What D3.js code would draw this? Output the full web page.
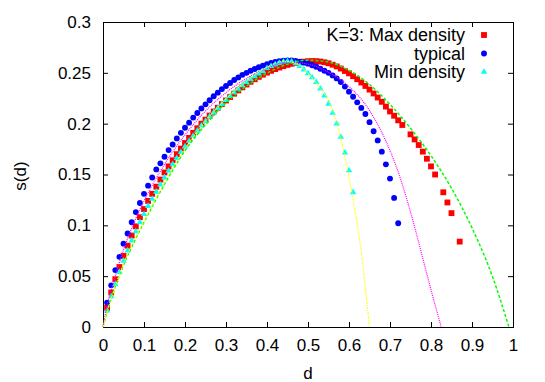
<!DOCTYPE html>
<html>
<head>
<meta charset="utf-8">
<script src="https://cdn.jsdelivr.net/npm/d3@7"></script>
<style>
  body { margin: 0; background: #fff; }
  text { font-family: "Liberation Sans", Arial, sans-serif; fill: #000; }
</style>
</head>
<body>
<div id="chart"></div>
<script>
// tick labels
var xTicks = [0, 0.1, 0.2, 0.3, 0.4, 0.5, 0.6, 0.7, 0.8, 0.9, 1];
var yTicks = [0, 0.05, 0.1, 0.15, 0.2, 0.25, 0.3];

// legend names
var seriesNames = ["K=3: Max density", "typical", "Min density"];

// measured points [d, s(d)]
var maxDensity = [
  [0.01,0.019],[0.02,0.034],[0.03,0.047],[0.04,0.059],[0.05,0.070],[0.06,0.080],[0.07,0.090],[0.08,0.099],
  [0.09,0.108],[0.10,0.116],[0.11,0.124],[0.12,0.131],[0.13,0.138],[0.14,0.145],[0.15,0.152],[0.16,0.158],
  [0.17,0.164],[0.18,0.170],[0.19,0.1755],[0.20,0.181],[0.21,0.186],[0.22,0.191],[0.23,0.1955],[0.24,0.200],
  [0.25,0.204],[0.26,0.208],[0.27,0.212],[0.28,0.2157],[0.29,0.2193],[0.30,0.2228],[0.31,0.2262],[0.32,0.2295],
  [0.33,0.2327],[0.34,0.2357],[0.35,0.2385],[0.36,0.2412],[0.37,0.2437],[0.38,0.246],[0.39,0.2482],[0.40,0.2502],
  [0.41,0.252],[0.42,0.2537],[0.43,0.2552],[0.44,0.2566],[0.45,0.2578],[0.46,0.2589],[0.47,0.2598],[0.48,0.2605],
  [0.49,0.261],[0.50,0.2614],[0.51,0.2616],[0.52,0.2615],[0.53,0.2611],[0.54,0.2604],[0.55,0.2594],[0.56,0.258],
  [0.57,0.2563],[0.58,0.2542],[0.59,0.2518],[0.60,0.2495],[0.61,0.2467],[0.62,0.2437],[0.63,0.2405],[0.64,0.2371],
  [0.65,0.2335],[0.66,0.2297],[0.67,0.2257],[0.68,0.2215],[0.69,0.2168],[0.70,0.212],[0.71,0.2078],[0.72,0.2033],
  [0.73,0.1987],[0.75,0.1895],[0.76,0.1845],[0.77,0.179],[0.78,0.1725],[0.79,0.1655],[0.80,0.158],[0.81,0.150],
  [0.83,0.1325],[0.84,0.1225],[0.85,0.112],[0.87,0.084]
];

var typical = [
  [0.01,0.024],[0.02,0.041],[0.03,0.056],[0.04,0.069],[0.05,0.082],[0.06,0.092],[0.07,0.103],[0.08,0.113],
  [0.09,0.122],[0.10,0.131],[0.11,0.139],[0.12,0.147],[0.13,0.155],[0.14,0.161],[0.15,0.1675],[0.16,0.174],
  [0.17,0.1795],[0.18,0.1855],[0.19,0.191],[0.20,0.196],[0.21,0.201],[0.22,0.206],[0.23,0.2105],[0.24,0.215],
  [0.25,0.219],[0.26,0.223],[0.27,0.227],[0.28,0.2305],[0.29,0.234],[0.30,0.237],[0.31,0.240],[0.32,0.243],
  [0.33,0.2455],[0.34,0.248],[0.35,0.250],[0.36,0.252],[0.37,0.2538],[0.38,0.2555],[0.39,0.257],[0.40,0.2585],
  [0.41,0.2597],[0.42,0.2607],[0.43,0.2615],[0.44,0.262],[0.45,0.2622],[0.46,0.2622],[0.47,0.2618],[0.48,0.261],
  [0.49,0.260],[0.50,0.259],[0.51,0.2575],[0.52,0.256],[0.53,0.254],[0.54,0.252],[0.55,0.250],[0.56,0.2475],
  [0.57,0.2445],[0.58,0.241],[0.59,0.2365],[0.60,0.2315],[0.61,0.2265],[0.62,0.221],[0.63,0.2155],[0.64,0.2095],
  [0.65,0.2015],[0.66,0.1925],[0.67,0.1835],[0.68,0.1725],[0.69,0.160],[0.70,0.146],[0.71,0.127],[0.72,0.102]
];

var minDensity = [
  [0.01,0.016],[0.02,0.030],[0.03,0.042],[0.04,0.054],[0.05,0.065],[0.06,0.075],[0.07,0.085],[0.08,0.094],
  [0.09,0.103],[0.10,0.111],[0.11,0.119],[0.12,0.126],[0.13,0.133],[0.14,0.140],[0.15,0.147],[0.16,0.1535],
  [0.17,0.160],[0.18,0.166],[0.19,0.172],[0.20,0.1775],[0.21,0.183],[0.22,0.188],[0.23,0.193],[0.24,0.198],
  [0.25,0.2025],[0.26,0.207],[0.27,0.2112],[0.28,0.2153],[0.29,0.2193],[0.30,0.2232],[0.31,0.227],[0.32,0.2307],
  [0.33,0.2342],[0.34,0.2376],[0.35,0.2408],[0.36,0.2438],[0.37,0.2466],[0.38,0.2492],[0.39,0.2515],[0.40,0.2545],
  [0.41,0.2565],[0.42,0.2583],[0.43,0.2598],[0.44,0.2609],[0.45,0.2615],[0.46,0.2612],[0.47,0.2593],[0.48,0.2565],
  [0.49,0.2532],[0.50,0.2495],[0.51,0.2455],[0.52,0.2408],[0.53,0.2345],[0.54,0.2275],[0.55,0.2195],[0.56,0.2105],
  [0.57,0.200],[0.58,0.187],[0.59,0.1715],[0.60,0.154],[0.61,0.1325]
];

// theory curves [d, s(d)]
var maxCurve = [
  [0,0],[0.01,0.015],[0.025,0.034],[0.05,0.061],[0.075,0.083],[0.10,0.103],[0.15,0.1405],[0.20,0.1735],
  [0.25,0.199],[0.30,0.2205],[0.35,0.237],[0.40,0.2497],[0.45,0.2585],[0.50,0.2625],[0.55,0.2605],[0.60,0.2525],
  [0.65,0.2385],[0.70,0.219],[0.75,0.1955],[0.80,0.1685],[0.85,0.1365],[0.90,0.0975],[0.95,0.0495],[0.99,0]
];

var typicalCurve = [
  [0,0],[0.01,0.021],[0.025,0.043],[0.05,0.076],[0.075,0.102],[0.10,0.124],[0.15,0.160],[0.20,0.189],
  [0.25,0.2125],[0.30,0.2305],[0.35,0.2445],[0.40,0.2545],[0.45,0.2605],[0.50,0.2585],[0.55,0.2505],[0.60,0.2365],
  [0.65,0.213],[0.70,0.1735],[0.72,0.1525],[0.74,0.127],[0.76,0.0985],[0.78,0.0675],[0.80,0.0365],[0.825,0]
];

var minCurve = [
  [0,0],[0.01,0.015],[0.025,0.034],[0.05,0.062],[0.10,0.104],[0.15,0.142],[0.20,0.1755],[0.25,0.2025],
  [0.30,0.2245],[0.35,0.242],[0.40,0.2555],[0.44,0.2615],[0.47,0.2595],[0.50,0.2495],[0.53,0.2345],[0.55,0.2225],
  [0.57,0.2005],[0.59,0.1675],[0.61,0.1255],[0.63,0.0735],[0.65,0]
];

// svg params
var svgWidth = 545;
var svgHeight = 382;
var margin = { top: 22, right: 32, bottom: 55, left: 103 };
var chartWidth = svgWidth - margin.left - margin.right;
var chartHeight = svgHeight - margin.top - margin.bottom;

var svg = d3.select("#chart").append("svg")
  .attr("width", svgWidth)
  .attr("height", svgHeight);

var chartGroup = svg.append("g")
  .attr("transform", `translate(${margin.left}, ${margin.top})`);

// scales
var xScale = d3.scaleLinear().domain([0, 1]).range([0, chartWidth]);
var yScale = d3.scaleLinear().domain([0, 0.3]).range([chartHeight, 0]);

// axes with inward ticks (gnuplot style)
var xAxis = d3.axisBottom(xScale).tickValues(xTicks).tickSize(-5).tickPadding(12)
  .tickFormat(d3.format("~g"));
var yAxis = d3.axisLeft(yScale).tickValues(yTicks).tickSize(-5).tickPadding(12)
  .tickFormat(d3.format("~g"));

var xAxisGroup = chartGroup.append("g")
  .attr("transform", `translate(0, ${chartHeight})`)
  .call(xAxis);
var yAxisGroup = chartGroup.append("g")
  .call(yAxis);

// mirrored ticks top and right
chartGroup.append("g")
  .call(d3.axisTop(xScale).tickValues(xTicks).tickSize(-5).tickFormat(""));
chartGroup.append("g")
  .attr("transform", `translate(${chartWidth}, 0)`)
  .call(d3.axisRight(yScale).tickValues(yTicks).tickSize(-5).tickFormat(""));

chartGroup.selectAll(".domain").remove();
chartGroup.selectAll(".tick line").attr("stroke", "#000");
chartGroup.selectAll(".tick text").style("font-size", "17px");

// frame
chartGroup.append("rect")
  .attr("x", 0.5)
  .attr("y", 0.5)
  .attr("width", chartWidth)
  .attr("height", chartHeight)
  .attr("fill", "none")
  .attr("stroke", "#000");

// axis titles
chartGroup.append("text")
  .attr("x", xScale(0.5))
  .attr("y", chartHeight + 52)
  .attr("text-anchor", "middle")
  .style("font-size", "17px")
  .text("d");

svg.append("text")
  .attr("transform", "translate(26, 176) rotate(-90)")
  .attr("text-anchor", "middle")
  .style("font-size", "17px")
  .text("s(d)");

// point series
var pointSeries = [
  { data: maxDensity, color: "#ff0000", shape: d3.symbolSquare, size: 34 },
  { data: typical, color: "#0000ff", shape: d3.symbolCircle, size: 27 },
  { data: minDensity, color: "#00ffff", shape: d3.symbolTriangle, size: 18 }
];

pointSeries.forEach(function(s) {
  chartGroup.append("g").selectAll("path")
    .data(s.data)
    .enter()
    .append("path")
    .attr("transform", d => `translate(${xScale(d[0])}, ${yScale(d[1])})`)
    .attr("d", d3.symbol().type(s.shape).size(s.size))
    .attr("fill", s.color);
});

// theory lines on top
var line = d3.line()
  .x(d => xScale(d[0]))
  .y(d => yScale(d[1]))
  .curve(d3.curveMonotoneX);

chartGroup.append("path")
  .datum(maxCurve)
  .attr("d", line)
  .attr("fill", "none")
  .attr("stroke", "#00ff00")
  .attr("stroke-width", 1.5)
  .attr("stroke-dasharray", "3,2");

chartGroup.append("path")
  .datum(typicalCurve)
  .attr("d", line)
  .attr("fill", "none")
  .attr("stroke", "#ff00ff")
  .attr("stroke-width", 1.2)
  .attr("stroke-dasharray", "1,1");

chartGroup.append("path")
  .datum(minCurve)
  .attr("d", line)
  .attr("fill", "none")
  .attr("stroke", "#ffff00")
  .attr("stroke-width", 1.1)
  .attr("stroke-dasharray", "2,1,1,1");

// legend
var legendGroup = svg.append("g");
seriesNames.forEach(function(name, i) {
  var yPos = 35 + i * 18.5;
  legendGroup.append("text")
    .attr("x", 465)
    .attr("y", yPos + 6)
    .attr("text-anchor", "end")
    .style("font-size", "18px")
    .text(name);
  legendGroup.append("path")
    .attr("transform", `translate(484, ${yPos})`)
    .attr("d", d3.symbol().type(pointSeries[i].shape).size(pointSeries[i].size))
    .attr("fill", pointSeries[i].color);
});
</script>
</body>
</html>
